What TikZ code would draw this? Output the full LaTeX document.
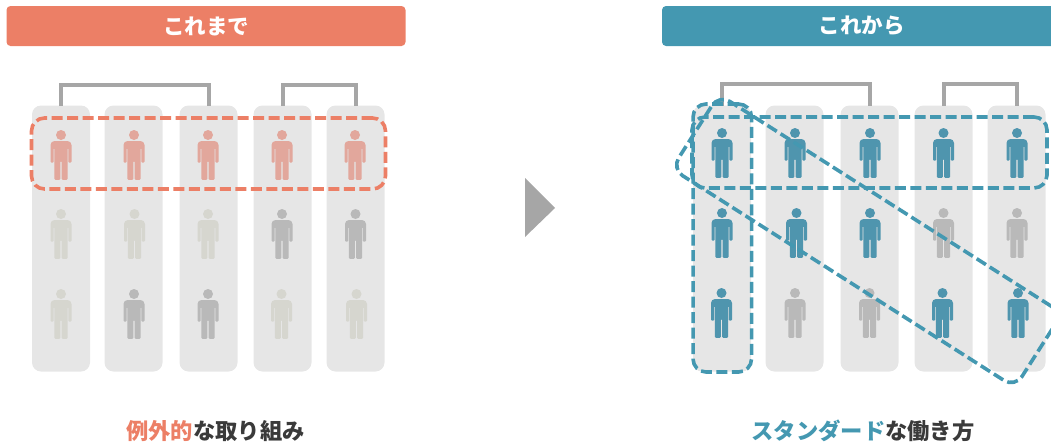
\documentclass[tikz,border=0pt]{standalone}
\usepackage{fontspec}
\usepackage{xcolor}
\usepackage{tikz}
\usetikzlibrary{shapes, arrows}
\newfontfamily\jpfont{Noto Sans CJK JP}
\definecolor{salmon}{HTML}{EC7F66}
\definecolor{teal}{HTML}{4498B1}
\definecolor{manteal}{HTML}{4F95AE}
\definecolor{manred}{HTML}{E2A79C}
\definecolor{manfade}{HTML}{D6D6CF}
\definecolor{mangray}{HTML}{B9B9B9}
\definecolor{colgray}{HTML}{E6E6E6}
\definecolor{linegray}{HTML}{A6A6A6}
\definecolor{textdark}{HTML}{3A3A3A}
\tikzstyle{header} = [rectangle, rounded corners=4pt, minimum width=399pt, minimum height=40pt, inner sep=0pt, text=white, font=\jpfont\bfseries\fontsize{21.5}{21.5}\selectfont]
\tikzstyle{column} = [rectangle, fill=colgray, rounded corners=9pt, minimum width=58pt, minimum height=266pt, inner sep=0pt, outer sep=0pt]
\tikzstyle{bracket} = [draw=linegray, line width=4pt]
\tikzstyle{group} = [draw, rectangle, rounded corners=13pt, line width=3.6pt, dash pattern=on 11pt off 4.5pt, inner sep=0pt]
\tikzstyle{caption} = [font=\jpfont\bfseries\fontsize{22.3}{22.3}\selectfont, text=textdark, inner sep=0pt]
\tikzset{
  person/.pic={
    \fill[fill=#1] (0,0) circle [radius=5];
    \fill[fill=#1,rounded corners=1pt] (-10.5,27.7) -- (-10.5,11) [rounded corners=4pt] -- (-10.5,6) -- (10.5,6) [rounded corners=1pt] -- (10.5,27.7) -- (7.4,27.7) -- (7.4,13) -- (6.6,13) -- (6.6,44.8) -- (0.7,44.8) -- (0.7,26) -- (-0.7,26) -- (-0.7,44.8) -- (-6.6,44.8) -- (-6.6,13) -- (-7.4,13) -- (-7.4,27.7) -- cycle;
  }
}

\begin{document}
\begin{tikzpicture}[x=1pt, y=-1pt]
    \useasboundingbox (0,0) rectangle (1051,445);
    \clip (0,0) rectangle (1051,445);

    % headers
    \node [header, fill=salmon] (headL) at (206,26) {これまで};
    \node [header, fill=teal] (headR) at (861.5,26) {これから};
    \fill [linegray] (525,178) -- (555,208) -- (525,237) -- cycle;

    % columns
    \foreach \name/\cx in {colA/61,colB/133.5,colC/208.5,colD/282.5,colE/355.5,colF/722,colG/794.5,colH/869.5,colI/943.5,colJ/1016.5}
        \node [column] (\name) at (\cx,238.5) {};

    % brackets
    \coordinate (topL1) at (61,85);
    \coordinate (topL2) at (282.5,85);
    \coordinate (topR1) at (722,84);
    \coordinate (topR2) at (943.5,84);
    \draw [bracket] (colA.north) |- (topL1) -| (colC.north);
    \draw [bracket] (colD.north) |- (topL2) -| (colE.north);
    \draw [bracket] (colF.north) |- (topR1) -| (colH.north);
    \draw [bracket] (colI.north) |- (topR2) -| (colJ.north);

    % people, left
    \foreach \px/\py/\pc in {61/135/manred,134/135/manred,208/135/manred,282/135/manred,355/135/manred,
        61/214/manfade,134.5/214/manfade,208/214/manfade,282/214/mangray,355.5/214/mangray,
        61/294/manfade,134/294/mangray,208/294/mangray,281.5/294/manfade,356.5/294/manfade}
        \pic at (\px,\py) {person=\pc};
    % people, right
    \foreach \px/\py/\pc in {722/133/manteal,795/133/manteal,870/133/manteal,943.5/133/manteal,1017/133/manteal,
        722/213/manteal,796.5/213/manteal,870/213/manteal,943.5/213/mangray,1017/213/mangray,
        721.5/293/manteal,795/293/mangray,869.5/293/mangray,942.5/293/manteal,1018/293/manteal}
        \pic at (\px,\py) {person=\pc};

    % dashed groups
    \node [group, draw=salmon, minimum width=354pt, minimum height=71pt] (rowL) at (208.5,153.5) {};
    \node [group, draw=teal, minimum width=355pt, minimum height=71pt] (rowR) at (869.5,152.5) {};
    \node [group, draw=teal, minimum width=58.5pt, minimum height=268pt] (colR) at (722.3,238) {};
    \node [group, draw=teal, rotate=-32.5, minimum width=407pt, minimum height=88pt] (diagR) at (867,241) {};

    % captions
    \node [caption] (capL) at (215.5,431) {\textcolor{salmon}{例外的}な取り組み};
    \node [caption] (capR) at (863,431) {\textcolor{teal}{スタンダード}な働き方};
\end{tikzpicture}
\end{document}
